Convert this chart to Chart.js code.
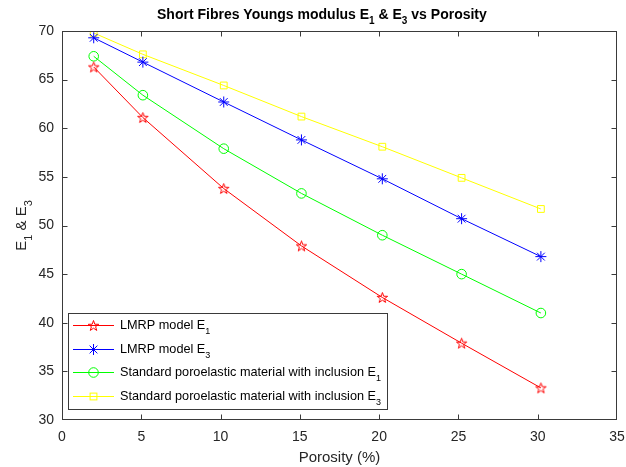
<!DOCTYPE html>
<html><head><meta charset="utf-8">
<script src="https://cdn.jsdelivr.net/npm/chart.js@4/dist/chart.umd.min.js"></script>
<style>html,body{margin:0;padding:0;background:#fff}#wrap{width:626px;height:467px}</style>
</head><body><div id="wrap"><canvas id="c" width="626" height="467"></canvas></div>
<script>
// ---- data ----
const porosity = [2, 5.1, 10.2, 15.1, 20.2, 25.2, 30.2];
const lmrpE1 = [66.3, 61.1, 53.8, 47.9, 42.6, 37.9, 33.3];
const lmrpE3 = [69.3, 66.8, 62.7, 58.8, 54.8, 50.7, 46.8];
const stdE1  = [67.4, 63.4, 57.9, 53.3, 49.0, 45.0, 41.0];
const stdE3  = [69.8, 67.6, 64.4, 61.2, 58.1, 54.9, 51.7];
const xTicks = [0, 5, 10, 15, 20, 25, 30, 35];
const yTicks = [30, 35, 40, 45, 50, 55, 60, 65, 70];
const legendMain = ['LMRP model E', 'LMRP model E', 'Standard poroelastic material with inclusion E', 'Standard poroelastic material with inclusion E'];
const legendSub = ['1', '3', '1', '3'];
const titleParts = [['Short Fibres Youngs modulus E', false], ['1', true], [' & E', false], ['3', true], [' vs Porosity', false]];
const yLabelParts = [['E', false], ['1', true], [' & E', false], ['3', true]];
const xLabelText = 'Porosity (%)';

const FONT = "'Liberation Sans', Arial, Helvetica, sans-serif";
const colors = ['#ff0000', '#0000ff', '#00ff00', '#ffff00'];

function makePentagram(color, size) {
  const c = document.createElement('canvas');
  c.width = size; c.height = size;
  const g = c.getContext('2d');
  g.strokeStyle = color; g.lineWidth = 1;
  const cx = size / 2, cy = size / 2 + 0.5, R = size / 2 - 1, r = R * 0.4;
  g.beginPath();
  for (let i = 0; i < 10; i++) {
    const a = -Math.PI / 2 + i * Math.PI / 5;
    const rr = i % 2 ? r : R;
    const px = cx + rr * Math.cos(a), py = cy + rr * Math.sin(a);
    if (i === 0) g.moveTo(px, py); else g.lineTo(px, py);
  }
  g.closePath(); g.stroke();
  return c;
}
const pent = makePentagram(colors[0], 13);

function pts(ys) { return porosity.map((x, i) => ({x: x, y: ys[i]})); }

const styles = [
  {pointStyle: pent, pointRadius: 6},
  {pointStyle: 'star', pointRadius: 5.5},
  {pointStyle: 'circle', pointRadius: 4.8},
  {pointStyle: 'rect', pointRadius: 4.8}
];
const seriesValues = [lmrpE1, lmrpE3, stdE1, stdE3];

const datasets = seriesValues.map((v, i) => Object.assign({
  label: legendMain[i] + legendSub[i],
  data: pts(v),
  borderColor: colors[i],
  backgroundColor: 'transparent',
  pointBorderColor: colors[i],
  pointBackgroundColor: 'transparent',
  pointBorderWidth: 1,
  borderWidth: 1,
  fill: false,
  tension: 0
}, styles[i]));

function drawRich(ctx, parts, x, y, size, align, bold) {
  const w = bold ? 'bold ' : '';
  const main = w + size + 'px ' + FONT, sub = w + Math.round(size * 0.72) + 'px ' + FONT;
  let total = 0;
  parts.forEach(p => { ctx.font = p[1] ? sub : main; total += ctx.measureText(p[0]).width; });
  let cx = align === 'center' ? x - total / 2 : x;
  ctx.textAlign = 'left'; ctx.textBaseline = 'alphabetic';
  parts.forEach(p => {
    ctx.font = p[1] ? sub : main;
    ctx.fillText(p[0], cx, p[1] ? y + size * 0.38 : y);
    cx += ctx.measureText(p[0]).width;
  });
}

function drawMarker(ctx, i, x, y) {
  ctx.save();
  ctx.strokeStyle = colors[i]; ctx.lineWidth = 1;
  if (i === 0) {
    ctx.drawImage(pent, x - pent.width / 2, y - pent.height / 2);
  } else if (i === 1) {
    const r = 5.5;
    ctx.beginPath();
    for (let k = 0; k < 4; k++) {
      const a = k * Math.PI / 4;
      ctx.moveTo(x - r * Math.cos(a), y - r * Math.sin(a));
      ctx.lineTo(x + r * Math.cos(a), y + r * Math.sin(a));
    }
    ctx.stroke();
  } else if (i === 2) {
    ctx.beginPath(); ctx.arc(x, y, 4.8, 0, Math.PI * 2); ctx.stroke();
  } else {
    const s = 3.4;
    ctx.strokeRect(x - s, y - s, 2 * s, 2 * s);
  }
  ctx.restore();
}

const decor = {
  id: 'decor',
  afterDraw(chart) {
    const ctx = chart.ctx, a = chart.chartArea;
    const xs = chart.scales.x, ys = chart.scales.y;
    ctx.save();
    // box
    ctx.strokeStyle = '#3a3a3a'; ctx.lineWidth = 1;
    const L = Math.round(a.left) + 0.5, R = Math.round(a.right) - 0.5, T = Math.round(a.top) + 0.5, B = Math.round(a.bottom) - 0.5;
    ctx.strokeRect(L, T, R - L, B - T);
    // inward ticks
    const tl = 5;
    ctx.beginPath();
    xTicks.forEach(v => {
      const px = Math.min(R, Math.max(L, Math.round(xs.getPixelForValue(v)) + 0.5));
      ctx.moveTo(px, B); ctx.lineTo(px, B - tl);
      ctx.moveTo(px, T); ctx.lineTo(px, T + tl);
    });
    yTicks.forEach(v => {
      const py = Math.min(B, Math.max(T, Math.round(ys.getPixelForValue(v)) + 0.5));
      ctx.moveTo(L, py); ctx.lineTo(L + tl, py);
      ctx.moveTo(R, py); ctx.lineTo(R - tl, py);
    });
    ctx.stroke();
    // title
    ctx.fillStyle = '#000';
    drawRich(ctx, titleParts, 157, 19, 14, 'left', true);
    // x label
    ctx.fillStyle = '#262626';
    ctx.font = '15px ' + FONT; ctx.textAlign = 'center'; ctx.textBaseline = 'alphabetic';
    ctx.fillText(xLabelText, (a.left + a.right) / 2, 462);
    // y label
    ctx.save();
    ctx.translate(26, (a.top + a.bottom) / 2);
    ctx.rotate(-Math.PI / 2);
    drawRich(ctx, yLabelParts, 0, 0, 15, 'center', false);
    ctx.restore();
    // legend
    const lx = 68.5, ly = 313.5, lw = 319, lh = 96;
    ctx.fillStyle = '#fff'; ctx.fillRect(lx, ly, lw, lh);
    ctx.strokeStyle = '#3a3a3a'; ctx.strokeRect(lx, ly, lw, lh);
    const rows = [325, 349, 372, 396];
    rows.forEach((ry, i) => {
      ctx.strokeStyle = colors[i]; ctx.lineWidth = 1;
      ctx.beginPath(); ctx.moveTo(73, ry + 0.5); ctx.lineTo(114, ry + 0.5); ctx.stroke();
      drawMarker(ctx, i, 93.5, ry + 0.5);
      ctx.fillStyle = '#000';
      drawRich(ctx, [[legendMain[i], false], [legendSub[i], true]], 120, ry + 4, 12.7, 'left', false);
    });
    ctx.restore();
  }
};

new Chart(document.getElementById('c'), {
  type: 'line',
  data: {datasets: datasets},
  plugins: [decor],
  options: {
    responsive: false,
    animation: false,
    layout: {padding: {left: 0, top: 31, right: 9, bottom: 0}},
    plugins: {legend: {display: false}, title: {display: false}, tooltip: {enabled: false}},
    scales: {
      x: {
        type: 'linear', min: 0, max: 35,
        afterBuildTicks: s => { s.ticks = xTicks.map(v => ({value: v})); },
        afterFit: s => { s.height = 47; s.paddingLeft = 0; s.paddingRight = 0; },
        grid: {display: true, drawOnChartArea: false, drawTicks: false, color: 'transparent'},
        border: {display: false},
        ticks: {padding: 9, color: '#262626', font: {size: 14, family: FONT}, maxRotation: 0, autoSkip: false}
      },
      y: {
        type: 'linear', min: 30, max: 70,
        afterBuildTicks: s => { s.ticks = yTicks.map(v => ({value: v})); },
        afterFit: s => { s.width = 62; s.paddingTop = 0; s.paddingBottom = 0; },
        grid: {display: true, drawOnChartArea: false, drawTicks: false, color: 'transparent'},
        border: {display: false},
        ticks: {padding: 8, color: '#262626', font: {size: 14, family: FONT}, autoSkip: false}
      }
    }
  }
});
</script></body></html>
